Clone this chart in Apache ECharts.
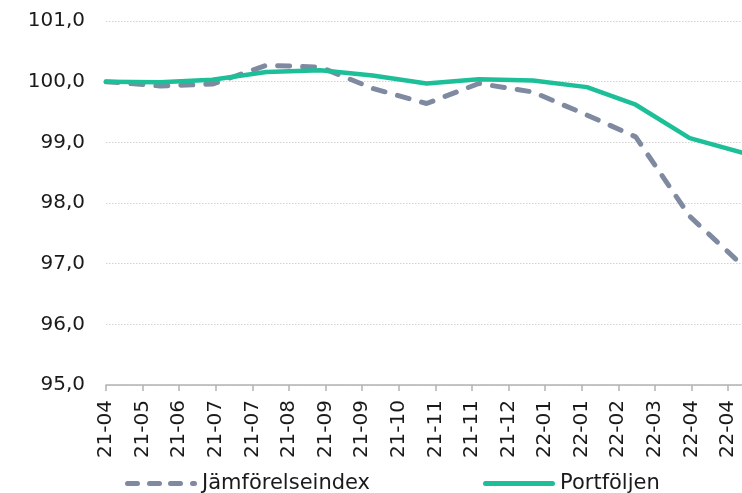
<!DOCTYPE html>
<html>
<head>
<meta charset="utf-8">
<script src="https://cdn.jsdelivr.net/npm/echarts@6/dist/echarts.min.js"></script>
<style>
  html, body { margin: 0; padding: 0; background: #fff; }
  #chart { width: 742px; height: 493px; }
</style>
</head>
<body>
<div id="chart"></div>
<script>
// Month-end observation dates
const dates = ['2021-04-30', '2021-05-31', '2021-06-30', '2021-07-31', '2021-08-31', '2021-09-30',
  '2021-10-31', '2021-11-30', '2021-12-31', '2022-01-31', '2022-02-28', '2022-03-31', '2022-04-30'];

// Index values (start = 100)
const benchmark = [100.00, 99.93, 99.96, 100.27, 100.24, 99.89, 99.64, 99.97, 99.83, 99.45, 99.09, 97.78, 96.98];
const portfolio = [100.00, 99.99, 100.03, 100.16, 100.19, 100.10, 99.97, 100.04, 100.02, 99.91, 99.62, 99.07, 98.83];

// Date-axis labels, one every three weeks from the first date
const tickLabels = ['21-04', '21-05', '21-06', '21-07', '21-07', '21-08', '21-09', '21-09', '21-10',
  '21-11', '21-11', '21-12', '22-01', '22-01', '22-02', '22-03', '22-04', '22-04'];
const tickStepDays = 21;

const DAY = 86400000;
const t0 = Date.parse(dates[0]);
const dayOffsets = dates.map(d => Math.round((Date.parse(d) - t0) / DAY));
const spanDays = dayOffsets[dayOffsets.length - 1];

const font = 'DejaVu Sans, Verdana, sans-serif';
const benchColor = '#7f8aa1';
const portColor = '#1dbf98';

// Legend keys drawn as thick rounded strokes: a dashed one and a solid one
const pill = (x0, x1) => `M${x0 + 2.5},0 H${x1 - 2.5} A2.5,2.5 0 0 1 ${x1 - 2.5},5 H${x0 + 2.5} A2.5,2.5 0 0 1 ${x0 + 2.5},0 Z`;
const dashedKey = 'path://' + [pill(0, 15), pill(22, 37), pill(43, 58), pill(65, 72)].join(' ');
const solidKey = 'path://' + pill(0, 72);

const chart = echarts.init(document.getElementById('chart'), null, { renderer: 'canvas' });

chart.setOption({
  animation: false,
  textStyle: { fontFamily: font },
  grid: { left: 106, right: 0, top: 21, bottom: 108, containLabel: false },
  legend: {
    left: 120,
    top: 468,
    itemWidth: 72,
    itemHeight: 5,
    itemGap: 113,
    textStyle: { fontSize: 21, color: '#1a1a1a', fontFamily: font },
    data: [
      { name: 'Jämförelseindex', icon: dashedKey, itemStyle: { color: benchColor } },
      { name: 'Portföljen', icon: solidKey, itemStyle: { color: portColor } }
    ]
  },
  xAxis: {
    type: 'value',
    min: 0,
    max: spanDays,
    interval: tickStepDays,
    splitLine: { show: false },
    axisLine: { show: true, lineStyle: { color: '#b3b3b3', width: 1.5 } },
    axisTick: { show: true, length: 6, lineStyle: { color: '#b3b3b3', width: 1.5 } },
    axisLabel: {
      rotate: 90,
      margin: 15,
      fontSize: 20,
      color: '#1a1a1a',
      fontFamily: font,
      showMaxLabel: false,
      formatter: v => {
        const i = v / tickStepDays;
        return Number.isInteger(i) && tickLabels[i] ? tickLabels[i] : '';
      }
    }
  },
  yAxis: {
    type: 'value',
    min: 95,
    max: 101,
    interval: 1,
    axisLine: { show: false },
    axisTick: { show: false },
    splitLine: { show: true, lineStyle: { color: '#d2d2d2', type: [1.5, 1.5], width: 1 } },
    axisLabel: {
      margin: 21,
      fontSize: 20,
      color: '#1a1a1a',
      fontFamily: font,
      formatter: v => v.toFixed(1).replace('.', ',')
    }
  },
  series: [
    {
      name: 'Jämförelseindex',
      type: 'line',
      data: dayOffsets.map((d, i) => [d, benchmark[i]]),
      showSymbol: false,
      symbol: 'none',
      z: 2,
      lineStyle: { color: benchColor, width: 5, type: [12, 13], cap: 'round' },
      itemStyle: { color: benchColor }
    },
    {
      name: 'Portföljen',
      type: 'line',
      data: dayOffsets.map((d, i) => [d, portfolio[i]]),
      showSymbol: false,
      symbol: 'none',
      z: 3,
      lineStyle: { color: portColor, width: 4.5, cap: 'round' },
      itemStyle: { color: portColor }
    }
  ]
});
</script>
</body>
</html>
